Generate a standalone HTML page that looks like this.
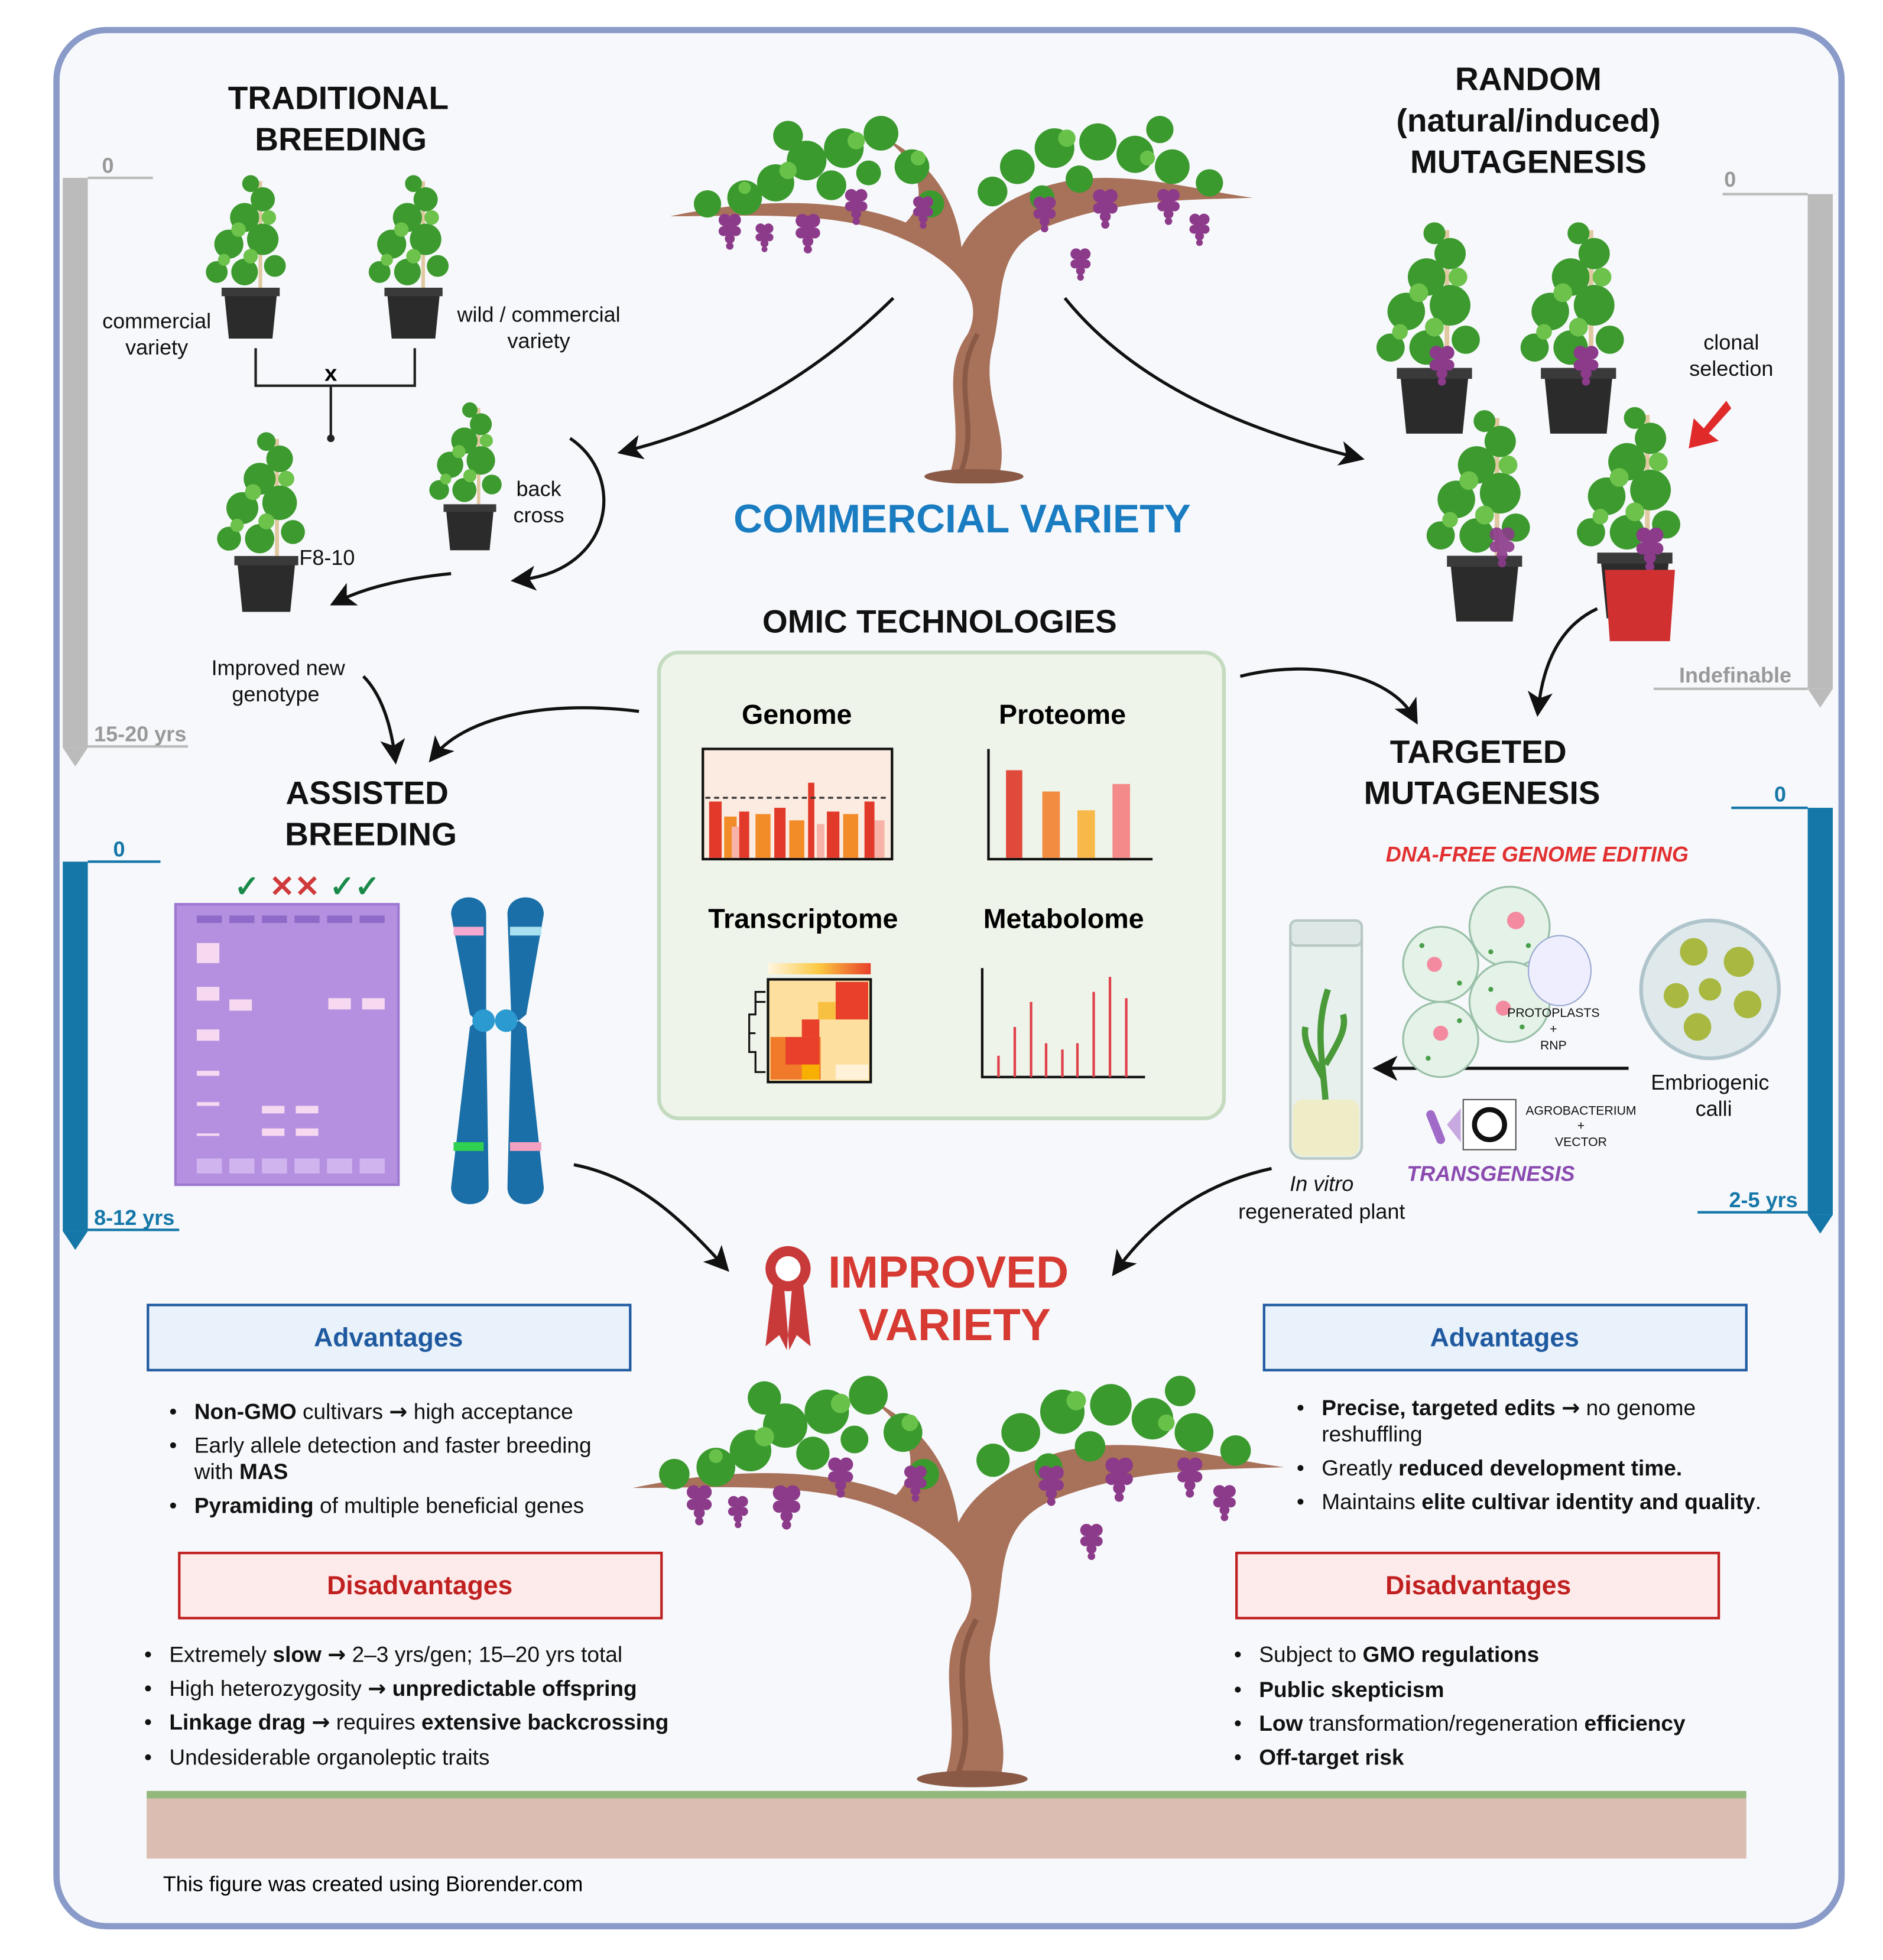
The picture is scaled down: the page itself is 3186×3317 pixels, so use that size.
<!DOCTYPE html>
<html><head><meta charset="utf-8"><style>
html,body{margin:0;padding:0;background:#fff}
svg{display:block}
text{font-family:"Liberation Sans",sans-serif}
.ar{font-family:"DejaVu Sans",sans-serif;font-weight:bold}
</style></head><body>
<svg width="3186" height="3317" viewBox="0 0 1503 1565" xmlns="http://www.w3.org/2000/svg">
<defs>
<marker id="ah" markerWidth="8" markerHeight="8" refX="5" refY="4" orient="auto" markerUnits="strokeWidth"><path d="M0,0 L8,4 L0,8 L2,4 z" fill="#111"/></marker>
<symbol id="plant" viewBox="0 0 80 150">
<line x1="48" y1="10" x2="48" y2="105" stroke="#e0c9a0" stroke-width="3"/>
<g fill="#3d9a2e">
<circle cx="35" cy="40" r="12"/><circle cx="50" cy="25" r="10"/><circle cx="22" cy="62" r="12"/><circle cx="50" cy="58" r="13"/><circle cx="35" cy="85" r="11"/><circle cx="12" cy="85" r="9"/><circle cx="60" cy="80" r="9"/><circle cx="40" cy="12" r="7"/></g>
<g fill="#6cc24a"><circle cx="30" cy="50" r="6"/><circle cx="55" cy="40" r="6"/><circle cx="40" cy="72" r="6"/><circle cx="18" cy="75" r="5"/></g>
<path d="M18,100 L62,100 L58,140 L22,140 z" fill="#2b2b2b"/><rect x="16" y="98" width="48" height="7" fill="#3a3a3a"/>
</symbol>
<symbol id="grapes" viewBox="0 0 20 30">
<g fill="#8c3a8a"><circle cx="6" cy="6" r="5"/><circle cx="14" cy="6" r="5"/><circle cx="10" cy="13" r="5"/><circle cx="5" cy="15" r="4"/><circle cx="15" cy="15" r="4"/><circle cx="10" cy="21" r="4"/><circle cx="10" cy="27" r="3"/></g>
</symbol>
<symbol id="vine" viewBox="0 0 470 300">
<path d="M225,295 C240,250 215,215 240,180 C255,150 230,120 180,100 C130,80 60,85 0,85 C70,70 140,70 190,90 C210,70 200,40 170,20 C210,40 230,70 235,110 C250,80 290,60 330,55 C380,50 430,65 470,70 C420,72 360,70 300,95 C260,115 270,150 260,190 C250,230 275,260 265,295 z" fill="#a8715a"/>
<path d="M235,290 C250,250 225,220 248,180" stroke="#8a5a46" stroke-width="4" fill="none"/>
<ellipse cx="245" cy="295" rx="40" ry="6" fill="#8a5a46"/>
<g fill="#3b9a2e">
<circle cx="60" cy="70" r="14"/><circle cx="85" cy="58" r="15"/><circle cx="110" cy="40" r="16"/><circle cx="140" cy="30" r="16"/><circle cx="170" cy="18" r="14"/><circle cx="195" cy="45" r="14"/><circle cx="30" cy="75" r="11"/><circle cx="130" cy="60" r="12"/><circle cx="210" cy="75" r="11"/><circle cx="95" cy="20" r="12"/><circle cx="160" cy="50" r="10"/>
<circle cx="280" cy="45" r="14"/><circle cx="310" cy="30" r="16"/><circle cx="345" cy="25" r="15"/><circle cx="375" cy="35" r="15"/><circle cx="405" cy="45" r="14"/><circle cx="435" cy="58" r="11"/><circle cx="260" cy="65" r="12"/><circle cx="330" cy="55" r="11"/><circle cx="395" cy="15" r="11"/><circle cx="300" cy="70" r="10"/></g>
<g fill="#68c24a"><circle cx="95" cy="48" r="7"/><circle cx="150" cy="24" r="7"/><circle cx="320" cy="22" r="7"/><circle cx="385" cy="38" r="6"/><circle cx="60" cy="62" r="5"/><circle cx="200" cy="38" r="6"/></g>
<use href="#grapes" x="38" y="82" width="20" height="30"/><use href="#grapes" x="100" y="82" width="22" height="33"/><use href="#grapes" x="140" y="62" width="20" height="30"/><use href="#grapes" x="195" y="68" width="18" height="27"/><use href="#grapes" x="68" y="90" width="16" height="24"/>
<use href="#grapes" x="292" y="68" width="20" height="30"/><use href="#grapes" x="340" y="62" width="22" height="33"/><use href="#grapes" x="392" y="62" width="20" height="30"/><use href="#grapes" x="418" y="82" width="18" height="27"/><use href="#grapes" x="322" y="110" width="18" height="27"/>
</symbol>
</defs>
<rect x="45" y="24" width="1425" height="1514" rx="40" fill="#f6f8fb" stroke="#8a9bc9" stroke-width="5"/>

<!-- timelines -->
<rect x="50" y="142" width="20" height="455" fill="#bbb"/><path d="M50,597 L70,597 L60,612 z" fill="#bbb"/>
<line x1="70" y1="142" x2="122" y2="142" stroke="#bbb" stroke-width="2"/><text x="86" y="138" font-size="17" font-weight="bold" fill="#999" text-anchor="middle">0</text>
<line x1="70" y1="596" x2="150" y2="596" stroke="#bbb" stroke-width="2"/><text x="75" y="592" font-size="17" font-weight="bold" fill="#999">15-20 yrs</text>
<rect x="1443" y="155" width="20" height="395" fill="#bbb"/><path d="M1443,550 L1463,550 L1453,565 z" fill="#bbb"/>
<line x1="1375" y1="155" x2="1443" y2="155" stroke="#bbb" stroke-width="2"/><text x="1381" y="149" font-size="17" font-weight="bold" fill="#999" text-anchor="middle">0</text>
<line x1="1320" y1="550" x2="1443" y2="550" stroke="#bbb" stroke-width="2"/><text x="1430" y="545" font-size="17" font-weight="bold" fill="#999" text-anchor="end">Indefinable</text>
<rect x="50" y="688" width="20" height="295" fill="#1577a8"/><path d="M50,983 L70,983 L60,998 z" fill="#1577a8"/>
<line x1="70" y1="688" x2="128" y2="688" stroke="#1577a8" stroke-width="2"/><text x="95" y="684" font-size="17" font-weight="bold" fill="#1577a8" text-anchor="middle">0</text>
<line x1="70" y1="982" x2="143" y2="982" stroke="#1577a8" stroke-width="2"/><text x="75" y="978" font-size="17" font-weight="bold" fill="#1577a8">8-12 yrs</text>
<rect x="1443" y="645" width="20" height="325" fill="#1577a8"/><path d="M1443,970 L1463,970 L1453,985 z" fill="#1577a8"/>
<line x1="1382" y1="645" x2="1443" y2="645" stroke="#1577a8" stroke-width="2"/><text x="1421" y="640" font-size="17" font-weight="bold" fill="#1577a8" text-anchor="middle">0</text>
<line x1="1355" y1="968" x2="1443" y2="968" stroke="#1577a8" stroke-width="2"/><text x="1435" y="964" font-size="17" font-weight="bold" fill="#1577a8" text-anchor="end">2-5 yrs</text>

<!-- titles -->
<g font-weight="bold" font-size="26" text-anchor="middle" fill="#111">
<text x="270" y="87">TRADITIONAL</text><text x="272" y="120">BREEDING</text>
<text x="1220" y="72">RANDOM</text><text x="1220" y="105">(natural/induced)</text><text x="1220" y="138">MUTAGENESIS</text>
<text x="750" y="505">OMIC TECHNOLOGIES</text>
<text x="293" y="642">ASSISTED</text><text x="296" y="675">BREEDING</text>
<text x="1180" y="609">TARGETED</text><text x="1183" y="642">MUTAGENESIS</text>
</g>
<text x="768" y="425" font-size="32" font-weight="bold" fill="#1a7cc1" text-anchor="middle">COMMERCIAL VARIETY</text>

<use href="#vine" x="535" y="88" width="465" height="298"/>

<!-- traditional plants -->
<use href="#plant" x="160" y="135" width="80" height="145"/>
<use href="#plant" x="290" y="135" width="80" height="145"/>
<use href="#plant" x="170" y="322" width="85" height="195"/>
<use href="#plant" x="340" y="310" width="70" height="145"/>
<path d="M204,278 V308 H331 V278 M264,308 V350" fill="none" stroke="#222" stroke-width="2"/><circle cx="264" cy="350" r="3" fill="#222"/>
<text x="264" y="304" font-size="18" font-weight="bold" text-anchor="middle">x</text>
<g font-size="17" fill="#111" text-anchor="middle">
<text x="125" y="262">commercial</text><text x="125" y="283">variety</text>
<text x="430" y="257">wild / commercial</text><text x="430" y="278">variety</text>
<text x="430" y="396">back</text><text x="430" y="417">cross</text>
<text x="261" y="451">F8-10</text>
<text x="222" y="539">Improved new</text><text x="220" y="560">genotype</text>
<text x="1382" y="279">clonal</text><text x="1382" y="300">selection</text>
<text x="1365" y="870">Embriogenic</text><text x="1368" y="891">calli</text>
<text x="1055" y="951" font-style="italic">In vitro</text><text x="1055" y="973">regenerated plant</text>
</g>
<g fill="none" stroke="#111" stroke-width="2.5">
<path d="M455,350 C500,380 490,455 415,463" marker-end="url(#ah)"/>
<path d="M360,458 C320,462 290,470 270,480" marker-end="url(#ah)"/>
<path d="M290,540 C305,555 312,580 315,603" marker-end="url(#ah)"/>
<path d="M510,568 C430,558 370,575 347,603" marker-end="url(#ah)"/>
<path d="M713,238 C650,300 580,340 500,360" marker-end="url(#ah)"/>
<path d="M850,238 C900,300 980,340 1082,365" marker-end="url(#ah)"/>
<path d="M990,540 C1050,525 1110,540 1128,572" marker-end="url(#ah)"/>
<path d="M1275,486 C1245,500 1232,530 1228,565" marker-end="url(#ah)"/>
<path d="M458,930 C510,940 545,975 577,1010" marker-end="url(#ah)"/>
<path d="M1015,933 C960,945 920,975 892,1013" marker-end="url(#ah)"/>
<path d="M1300,853 H1103" marker-end="url(#ah)"/>
</g>

<!-- random mutagenesis plants -->
<use href="#plant" x="1095" y="165" width="100" height="200"/>
<use href="#plant" x="1210" y="165" width="100" height="200"/>
<use href="#plant" x="1135" y="315" width="100" height="200"/>
<use href="#plant" x="1255" y="310" width="100" height="205"/>
<use href="#grapes" x="1140" y="275" width="22" height="33"/><use href="#grapes" x="1255" y="275" width="22" height="33"/>
<use href="#grapes" x="1188" y="420" width="22" height="33" opacity="0.9"/><use href="#grapes" x="1305" y="420" width="24" height="36"/>
<path d="M1281,455 L1337,455 L1333,512 L1285,512 z" fill="#d03030"/>
<path d="M1378,320 L1360,342 L1352,334 L1348,358 L1372,352 L1364,346 L1382,326 z" fill="#e02a2a"/>

<!-- omic box -->
<rect x="526" y="521" width="451" height="372" rx="16" fill="#eef4ea" stroke="#c4dbc0" stroke-width="3"/>
<g font-weight="bold" font-size="22" text-anchor="middle">
<text x="636" y="578">Genome</text><text x="848" y="578">Proteome</text>
<text x="641" y="741">Transcriptome</text><text x="849" y="741">Metabolome</text></g>
<rect x="561" y="598" width="151" height="88" fill="#fbebe0" stroke="#111" stroke-width="2"/>
<g fill="#e23a2a"><rect x="566" y="640" width="10" height="45"/><rect x="590" y="648" width="8" height="37"/><rect x="618" y="645" width="9" height="40"/><rect x="645" y="625" width="5" height="60"/><rect x="660" y="648" width="10" height="37"/><rect x="690" y="640" width="8" height="45"/></g>
<g fill="#f28c28"><rect x="578" y="652" width="10" height="33"/><rect x="603" y="650" width="12" height="35"/><rect x="630" y="655" width="12" height="30"/><rect x="673" y="650" width="12" height="35"/></g>
<g fill="#f8b3a8"><rect x="584" y="660" width="6" height="25"/><rect x="652" y="658" width="6" height="27"/><rect x="698" y="655" width="8" height="30"/></g>
<line x1="563" y1="637" x2="710" y2="637" stroke="#333" stroke-dasharray="4 3" stroke-width="1.5"/>
<path d="M789,598 V686 H920" fill="none" stroke="#111" stroke-width="2"/>
<rect x="803" y="615" width="13" height="70" fill="#e04a3a"/><rect x="832" y="632" width="14" height="53" fill="#f28c40"/><rect x="860" y="647" width="14" height="38" fill="#f8b84a"/><rect x="888" y="626" width="14" height="59" fill="#f58a8a"/>
<defs><linearGradient id="hg"><stop offset="0" stop-color="#fff6e0"/><stop offset="0.5" stop-color="#fbc840"/><stop offset="1" stop-color="#e8402a"/></linearGradient></defs>
<rect x="613" y="769" width="82" height="9" fill="url(#hg)"/>
<g>
<rect x="613" y="782" width="82" height="82" fill="#fde0a0" stroke="#111" stroke-width="2"/>
<rect x="667" y="784" width="26" height="30" fill="#e8402a"/><rect x="653" y="800" width="14" height="14" fill="#f8c040"/>
<rect x="640" y="814" width="14" height="14" fill="#e8402a"/><rect x="615" y="828" width="40" height="34" fill="#f07a2a"/><rect x="627" y="828" width="27" height="22" fill="#e8402a"/><rect x="640" y="850" width="14" height="12" fill="#f8b000"/><rect x="667" y="850" width="26" height="12" fill="#fff2d8"/>
</g>
<path d="M611,792 H603 V810 H598 V840 H603 V856 H611 M603,800 H611 M598,825 H603" fill="none" stroke="#111" stroke-width="1.5"/>
<path d="M784,773 V860 H914" fill="none" stroke="#111" stroke-width="2"/>
<g stroke="#e0404a" stroke-width="2"><line x1="797" y1="860" x2="797" y2="843"/><line x1="810" y1="860" x2="810" y2="820"/><line x1="823" y1="860" x2="823" y2="800"/><line x1="835" y1="860" x2="835" y2="833"/><line x1="848" y1="860" x2="848" y2="838"/><line x1="860" y1="860" x2="860" y2="833"/><line x1="873" y1="860" x2="873" y2="792"/><line x1="886" y1="860" x2="886" y2="780"/><line x1="899" y1="860" x2="899" y2="797"/></g>

<!-- gel -->
<rect x="140" y="722" width="178" height="224" fill="#b690e0" stroke="#9d78d0" stroke-width="2"/>
<g fill="#8f6ac8"><rect x="157" y="731" width="20" height="6"/><rect x="183" y="731" width="20" height="6"/><rect x="209" y="731" width="20" height="6"/><rect x="235" y="731" width="20" height="6"/><rect x="261" y="731" width="20" height="6"/><rect x="287" y="731" width="20" height="6"/></g>
<g fill="#f6d8f0"><rect x="157" y="753" width="18" height="16"/><rect x="157" y="788" width="18" height="11"/><rect x="157" y="822" width="18" height="9"/><rect x="157" y="855" width="18" height="4"/><rect x="157" y="880" width="18" height="3"/><rect x="157" y="905" width="18" height="2"/>
<rect x="183" y="798" width="18" height="9"/><rect x="262" y="797" width="18" height="9"/><rect x="289" y="797" width="18" height="9"/>
<rect x="209" y="883" width="18" height="6"/><rect x="236" y="883" width="18" height="6"/><rect x="209" y="901" width="18" height="6"/><rect x="236" y="901" width="18" height="6"/></g>
<g fill="#d0b4ee"><rect x="157" y="925" width="20" height="12"/><rect x="183" y="925" width="20" height="12"/><rect x="209" y="925" width="20" height="12"/><rect x="235" y="925" width="20" height="12"/><rect x="261" y="925" width="20" height="12"/><rect x="287" y="925" width="20" height="12"/></g>
<g font-size="24" font-weight="bold"><text x="187" y="716" fill="#1a8a4a">✓</text><text x="215" y="716" fill="#d03a3a">✕✕</text><text x="263" y="716" fill="#1a8a4a">✓✓</text></g>
<!-- chromosome -->
<g fill="#1a6fa8">
<path d="M360,730 C360,712 388,712 388,730 L388,810 L382,815 L388,820 L390,948 C390,966 360,966 360,948 L375,820 L380,815 L375,810 z"/>
<path d="M405,730 C405,712 434,712 434,730 L420,810 L414,815 L420,820 L434,948 C434,966 405,966 405,948 L408,820 L414,815 L408,810 z"/>
</g>
<circle cx="386" cy="815" r="9" fill="#2a9ad0"/><circle cx="404" cy="815" r="9" fill="#2a9ad0"/>
<rect x="362" y="740" width="24" height="7" fill="#f4a8d0"/><rect x="407" y="740" width="25" height="7" fill="#a8e0f0"/><rect x="362" y="912" width="24" height="7" fill="#30d050"/><rect x="407" y="912" width="25" height="7" fill="#f4a0c0"/>

<!-- targeted -->
<text x="1227" y="688" font-size="17" font-weight="bold" font-style="italic" fill="#e23030" text-anchor="middle">DNA-FREE GENOME EDITING</text>
<rect x="1030" y="740" width="57" height="185" rx="10" fill="#e8f0ee" stroke="#b8c8c4" stroke-width="2"/>
<rect x="1030" y="735" width="57" height="20" rx="5" fill="#dde8e6" stroke="#b8c8c4" stroke-width="2"/>
<rect x="1032" y="878" width="53" height="45" rx="8" fill="#efedc8"/>
<path d="M1058,878 C1055,840 1050,820 1060,790 M1058,850 C1070,830 1075,820 1072,810 M1056,860 C1045,840 1040,830 1042,820" stroke="#4a9a3a" stroke-width="5" fill="none"/>
<g fill="#e4f2e8" stroke="#9ac0a8" stroke-width="1.5">
<circle cx="1150" cy="770" r="30"/><circle cx="1205" cy="740" r="32"/><circle cx="1150" cy="830" r="30"/><circle cx="1205" cy="800" r="32"/></g>
<g fill="#f48aa0"><circle cx="1145" cy="770" r="6"/><circle cx="1210" cy="735" r="7"/><circle cx="1150" cy="825" r="6"/><circle cx="1200" cy="805" r="6"/></g>
<g fill="#4aa04a"><circle cx="1135" cy="755" r="2"/><circle cx="1165" cy="785" r="2"/><circle cx="1190" cy="760" r="2"/><circle cx="1220" cy="755" r="2"/><circle cx="1140" cy="845" r="2"/><circle cx="1165" cy="815" r="2"/><circle cx="1190" cy="790" r="2"/><circle cx="1215" cy="820" r="2"/></g>
<ellipse cx="1245" cy="775" rx="25" ry="28" fill="#eef" stroke="#9aa8d0"/>
<circle cx="1365" cy="790" r="55" fill="#dfe9ec" stroke="#b0c4cc" stroke-width="3"/>
<g fill="#a8b840"><circle cx="1352" cy="760" r="11"/><circle cx="1388" cy="768" r="12"/><circle cx="1338" cy="795" r="10"/><circle cx="1365" cy="790" r="9"/><circle cx="1395" cy="802" r="11"/><circle cx="1355" cy="820" r="11"/></g>
<g font-size="10" fill="#111" text-anchor="middle"><text x="1240" y="812">PROTOPLASTS</text><text x="1240" y="825">+</text><text x="1240" y="838">RNP</text>
<text x="1262" y="890">AGROBACTERIUM</text><text x="1262" y="902">+</text><text x="1262" y="915">VECTOR</text></g>
<rect x="1168" y="878" width="42" height="40" fill="#fff" stroke="#555"/><circle cx="1189" cy="898" r="12" fill="none" stroke="#111" stroke-width="4"/>
<path d="M1142,890 L1150,910" stroke="#a06ac8" stroke-width="7" stroke-linecap="round"/><path d="M1155,898 L1166,885 V912 z" fill="#c8a8e0"/>
<text x="1190" y="943" font-size="17" font-weight="bold" font-style="italic" fill="#8a4ab0" text-anchor="middle">TRANSGENESIS</text>

<!-- improved -->
<g fill="#c8393a"><circle cx="629" cy="1013" r="18"/><path d="M617,1025 L611,1075 L622,1066 L628,1078 L632,1030 z M641,1025 L647,1075 L636,1066 L630,1078 L626,1030 z"/></g>
<circle cx="629" cy="1013" r="10" fill="#fff"/>
<text x="757" y="1028" font-size="36" font-weight="bold" fill="#d63a32" text-anchor="middle">IMPROVED</text>
<text x="762" y="1070" font-size="36" font-weight="bold" fill="#d63a32" text-anchor="middle">VARIETY</text>

<use href="#vine" x="505" y="1090" width="520" height="340"/>
<rect x="117" y="1430" width="1277" height="6" fill="#94b87c"/>
<rect x="117" y="1436" width="1277" height="48" fill="#dbbdb1"/>
<text x="130" y="1510" font-size="17">This figure was created using Biorender.com</text>

<!-- boxes -->
<rect x="118" y="1042" width="385" height="52" fill="#e9f1fa" stroke="#1f5aa0" stroke-width="2"/>
<rect x="1009" y="1042" width="385" height="52" fill="#e9f1fa" stroke="#1f5aa0" stroke-width="2"/>
<rect x="143" y="1240" width="385" height="52" fill="#fdeaea" stroke="#c02020" stroke-width="2"/>
<rect x="987" y="1240" width="385" height="52" fill="#fdeaea" stroke="#c02020" stroke-width="2"/>
<g font-size="21" font-weight="bold" text-anchor="middle">
<text x="310" y="1075" fill="#1f5aa0">Advantages</text><text x="1201" y="1075" fill="#1f5aa0">Advantages</text>
<text x="335" y="1273" fill="#c02020">Disadvantages</text><text x="1180" y="1273" fill="#c02020">Disadvantages</text></g>
<g font-size="17.5" fill="#111">
<text x="135" y="1133">•</text><text x="155" y="1133"><tspan font-weight="bold">Non-GMO</tspan> cultivars <tspan class="ar" font-weight="normal">→</tspan> high acceptance</text>
<text x="135" y="1160">•</text><text x="155" y="1160">Early allele detection and faster breeding</text><text x="155" y="1181">with <tspan font-weight="bold">MAS</tspan></text>
<text x="135" y="1208">•</text><text x="155" y="1208"><tspan font-weight="bold">Pyramiding</tspan> of multiple beneficial genes</text>
<text x="115" y="1327">•</text><text x="135" y="1327">Extremely <tspan font-weight="bold">slow </tspan><tspan class="ar">→</tspan> 2–3 yrs/gen; 15–20 yrs total</text>
<text x="115" y="1354">•</text><text x="135" y="1354">High heterozygosity <tspan class="ar">→</tspan> <tspan font-weight="bold">unpredictable offspring</tspan></text>
<text x="115" y="1381">•</text><text x="135" y="1381"><tspan font-weight="bold">Linkage drag </tspan><tspan class="ar">→</tspan> requires <tspan font-weight="bold">extensive backcrossing</tspan></text>
<text x="115" y="1409">•</text><text x="135" y="1409">Undesiderable organoleptic traits</text>
<text x="1035" y="1130">•</text><text x="1055" y="1130"><tspan font-weight="bold">Precise, targeted edits </tspan><tspan class="ar">→</tspan> no genome</text><text x="1055" y="1151">reshuffling</text>
<text x="1035" y="1178">•</text><text x="1055" y="1178">Greatly <tspan font-weight="bold">reduced development time.</tspan></text>
<text x="1035" y="1205">•</text><text x="1055" y="1205">Maintains <tspan font-weight="bold">elite cultivar identity and quality</tspan>.</text>
<text x="985" y="1327">•</text><text x="1005" y="1327">Subject to <tspan font-weight="bold">GMO regulations</tspan></text>
<text x="985" y="1355">•</text><text x="1005" y="1355" font-weight="bold">Public skepticism</text>
<text x="985" y="1382">•</text><text x="1005" y="1382"><tspan font-weight="bold">Low</tspan> transformation/regeneration <tspan font-weight="bold">efficiency</tspan></text>
<text x="985" y="1409">•</text><text x="1005" y="1409" font-weight="bold">Off-target risk</text>
</g>
</svg>
</body></html>
